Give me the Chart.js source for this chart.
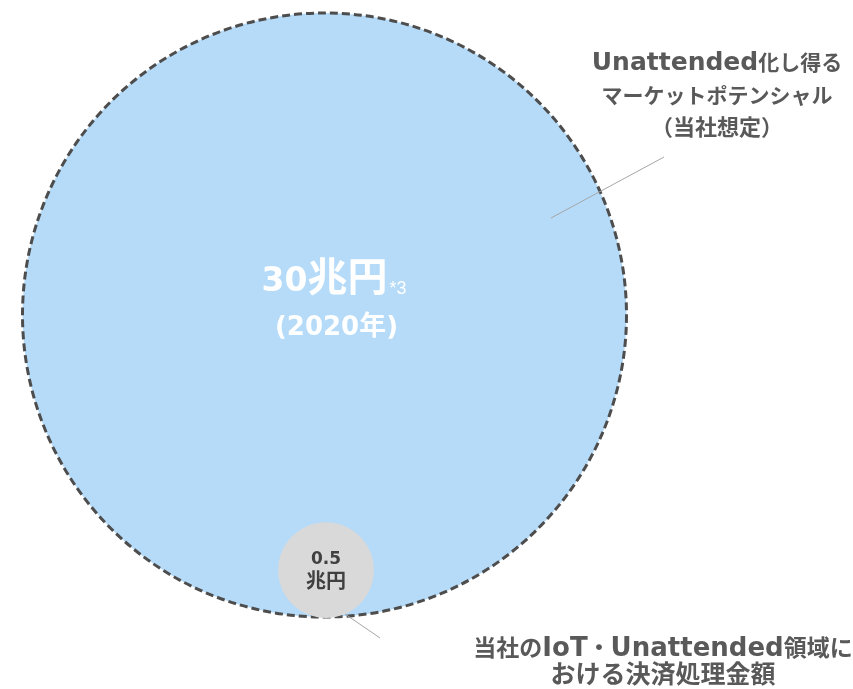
<!DOCTYPE html>
<html lang="ja">
<head>
<meta charset="utf-8">
<title>Unattended市場規模</title>
<script src="https://cdn.jsdelivr.net/npm/chart.js@4.4.1/dist/chart.umd.min.js"></script>
<style>
  html, body { margin: 0; padding: 0; background: #fff; }
  #wrap { width: 853px; height: 689px; position: relative; }
</style>
</head>
<body>
<div id="wrap"><canvas id="bubbleChart"></canvas></div>
<script>
// 市場規模（兆円）
const categories = ['マーケットポテンシャル', '決済処理金額'];
const amounts = [30, 0.5];
const amountUnit = '兆円';
const yearLabel = '(2020年)';
const noteMark = '*3';
const calloutLines = [
    ['Unattended化し得る', 'マーケットポテンシャル', '（当社想定）'],
    ['当社のIoT・Unattended領域に', 'おける決済処理金額']
];

// レイアウト
const W = 853, H = 689;
const CENTER = { x: 324.5, y: 315 };
const R_MAX = 302;
const GREY_TEXT = '#595959';

function bubbleRadius(v) {
    const max = Math.max.apply(null, amounts);
    return R_MAX * Math.pow(v / max, 0.45);
}

const bubbles = amounts.map(function (v, i) {
    const r = bubbleRadius(v);
    // 小さい円は大きい円の下端に揃える
    const y = i === 0 ? CENTER.y : CENTER.y + R_MAX - r + 1;
    return { x: CENTER.x + (i === 0 ? 0 : 1.5), y: y, r: r };
});

// 和文と欧文でフォントを切り替えて描く
function splitRuns(text) {
    const runs = [];
    for (const ch of text) {
        const cjk = ch.charCodeAt(0) > 0x2000;
        const last = runs[runs.length - 1];
        if (last && last.cjk === cjk) last.text += ch;
        else runs.push({ text: ch, cjk: cjk });
    }
    return runs;
}

function drawMixed(ctx, text, x, y, fonts) {
    const runs = splitRuns(text);
    let total = 0;
    runs.forEach(function (r) {
        ctx.font = r.cjk ? fonts.cjk : fonts.latin;
        r.w = ctx.measureText(r.text).width;
        total += r.w;
    });
    let cx = x - total / 2;
    runs.forEach(function (r) {
        ctx.font = r.cjk ? fonts.cjk : fonts.latin;
        ctx.fillText(r.text, cx, y);
        cx += r.w;
    });
    return cx;
}

const dashedBorder = {
    id: 'dashedBorder',
    beforeDatasetDraw: function (chart) {
        chart.ctx.save();
        chart.ctx.setLineDash([8, 4]);
    },
    afterDatasetDraw: function (chart) {
        chart.ctx.restore();
    }
};

const labelsPlugin = {
    id: 'bubbleLabels',
    afterDatasetsDraw: function (chart) {
        const ctx = chart.ctx;
        const xs = chart.scales.x, ys = chart.scales.y;
        const pts = chart.getDatasetMeta(0).data;
        const px = function (v) { return xs.getPixelForValue(v); };
        const py = function (v) { return ys.getPixelForValue(v); };

        ctx.save();
        ctx.textBaseline = 'alphabetic';
        ctx.textAlign = 'left';

        // 大きい円の中
        ctx.fillStyle = '#ffffff';
        const big = pts[0];
        const endX = drawMixed(ctx, amounts[0] + amountUnit, big.x, big.y - 24,
            { latin: 'bold 33px "DejaVu Sans"', cjk: 'bold 40px "Noto Sans CJK JP"' });
        ctx.font = '18px "Liberation Sans"';
        ctx.fillText(noteMark, endX + 2, big.y - 21);
        drawMixed(ctx, yearLabel, big.x + 12, big.y + 20,
            { latin: 'bold 26px "DejaVu Sans"', cjk: 'bold 27px "Noto Sans CJK JP"' });

        // 小さい円の中
        ctx.fillStyle = '#404040';
        const small = pts[1];
        drawMixed(ctx, String(amounts[1]), small.x, small.y - 6,
            { latin: 'bold 17px "DejaVu Sans"', cjk: 'bold 17px "Noto Sans CJK JP"' });
        drawMixed(ctx, amountUnit, small.x, small.y + 18,
            { latin: 'bold 17px "DejaVu Sans"', cjk: 'bold 20px "Noto Sans CJK JP"' });

        // 引き出し線
        ctx.strokeStyle = '#a6a6a6';
        ctx.lineWidth = 1;
        ctx.beginPath();
        ctx.moveTo(px(551), py(218));
        ctx.lineTo(px(664), py(157));
        ctx.moveTo(px(345), py(614));
        ctx.lineTo(px(380), py(638));
        ctx.stroke();

        // 説明ラベル
        ctx.fillStyle = GREY_TEXT;
        const topFonts = [
            { latin: 'bold 25px "DejaVu Sans"', cjk: 'bold 21px "Noto Sans CJK JP"' },
            { latin: 'bold 25px "DejaVu Sans"', cjk: 'bold 21px "Noto Sans CJK JP"' },
            { latin: 'bold 25px "DejaVu Sans"', cjk: 'bold 22px "Noto Sans CJK JP"' }
        ];
        const topBase = [70, 103, 135];
        calloutLines[0].forEach(function (line, i) {
            drawMixed(ctx, line, px(717), py(topBase[i]), topFonts[i]);
        });
        const botFonts = [
            { latin: 'bold 26px "DejaVu Sans"', cjk: 'bold 23px "Noto Sans CJK JP"' },
            { latin: 'bold 26px "DejaVu Sans"', cjk: 'bold 25px "Noto Sans CJK JP"' }
        ];
        const botBase = [656, 683];
        calloutLines[1].forEach(function (line, i) {
            drawMixed(ctx, line, px(663), py(botBase[i]), botFonts[i]);
        });
        ctx.restore();
    }
};

const ctx = document.getElementById('bubbleChart').getContext('2d');
new Chart(ctx, {
    type: 'bubble',
    data: {
        labels: categories,
        datasets: [{
            label: '市場規模',
            data: bubbles,
            backgroundColor: ['#b5dbf9', '#d9d9d9'],
            borderColor: ['#4d4d4d', 'rgba(0,0,0,0)'],
            borderWidth: [3, 0],
            hoverRadius: 0,
            clip: false
        }]
    },
    options: {
        responsive: true,
        maintainAspectRatio: false,
        animation: false,
        events: [],
        layout: { padding: 0, autoPadding: false },
        plugins: {
            legend: { display: false },
            tooltip: { enabled: false }
        },
        scales: {
            x: { type: 'linear', min: 0, max: W, display: false },
            y: { type: 'linear', min: 0, max: H, reverse: true, display: false }
        }
    },
    plugins: [dashedBorder, labelsPlugin]
});
</script>
</body>
</html>
